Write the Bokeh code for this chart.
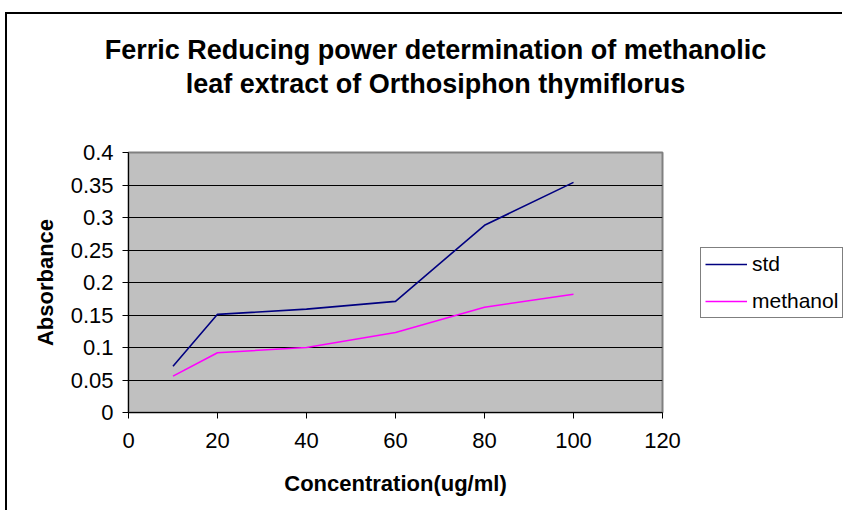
from bokeh.plotting import figure
from bokeh.models import Legend, LegendItem, Label, FixedTicker, Range1d
from bokeh.embed import file_html
from bokeh.resources import INLINE

# data
concentration = [10, 20, 40, 60, 80, 100]
std = [0.071, 0.151, 0.159, 0.171, 0.288, 0.354]
methanol = [0.056, 0.092, 0.100, 0.123, 0.162, 0.182]
x_ticks = [0, 20, 40, 60, 80, 100, 120]
y_ticks = [0, 0.05, 0.1, 0.15, 0.2, 0.25, 0.3, 0.35, 0.4]
title_lines = ["Ferric Reducing power determination of methanolic",
               "leaf extract of Orthosiphon thymiflorus"]

FONT = "Liberation Sans"
W = 837

# title strip (separate root, frame = whole canvas)
t = figure(width=W, height=126, output_backend="svg", toolbar_location=None,
           x_range=Range1d(0, 1), y_range=Range1d(0, 1),
           x_axis_type=None, y_axis_type=None, min_border=0, title=None)
t.grid.visible = False
t.outline_line_color = None
t.background_fill_color = "white"
t.border_fill_color = "white"
t.styles = {"margin-left": "5px", "margin-top": "12px",
            "border-left": "2px solid black", "border-top": "2px solid black"}
for i, line in enumerate(title_lines):
    t.add_layout(Label(x=428, y=91 - 34 * i, x_units="screen", y_units="screen",
                       text=line, text_align="center", text_baseline="alphabetic",
                       text_font=FONT, text_font_size="27px", text_font_style="bold",
                       text_color="black"))

# main chart
p = figure(frame_width=534, frame_height=260, output_backend="svg",
           toolbar_location=None,
           x_range=Range1d(0, 120), y_range=Range1d(0, 0.4),
           min_border_left=121, min_border_right=182, min_border_top=14,
           min_border_bottom=98, title=None)
p.styles = {"margin-left": "5px", "border-left": "2px solid black"}
p.background_fill_color = "#C0C0C0"
p.border_fill_color = "white"
p.outline_line_color = "#808080"
p.outline_line_width = 2

p.xgrid.grid_line_color = None
p.ygrid.grid_line_color = "black"
p.ygrid.grid_line_width = 1

for ax in (p.xaxis[0], p.yaxis[0]):
    ax.axis_line_color = "black"
    ax.major_tick_line_color = "black"
    ax.minor_tick_line_color = None
    ax.major_tick_in = 0
    ax.major_tick_out = 6
    ax.major_label_text_font = FONT
    ax.major_label_text_font_size = "22px"
    ax.major_label_text_color = "black"
    ax.axis_label_text_font = FONT
    ax.axis_label_text_font_size = "22px"
    ax.axis_label_text_font_style = "bold"
    ax.axis_label_text_color = "black"

p.xaxis.ticker = FixedTicker(ticks=x_ticks)
p.yaxis.ticker = FixedTicker(ticks=y_ticks)
p.xaxis.major_label_overrides = {v: str(v) for v in x_ticks}
p.yaxis.major_label_overrides = {v: ("0" if v == 0 else ("%g" % v)) for v in y_ticks}
p.xaxis.axis_label = "Concentration(ug/ml)"
p.yaxis.axis_label = "Absorbance"
p.xaxis.major_label_standoff = 14
p.yaxis.major_label_standoff = 9
p.xaxis.axis_label_standoff = 20
p.yaxis.axis_label_standoff = 10

r1 = p.line(concentration, std, line_color="#000080", line_width=1.6)
r2 = p.line(concentration, methanol, line_color="#FF00FF", line_width=1.6)

legend = Legend(items=[LegendItem(label="std", renderers=[r1]),
                       LegendItem(label="methanol", renderers=[r2])],
                location=(38, 94), orientation="vertical")
legend.label_text_font = FONT
legend.label_text_font_size = "21px"
legend.label_text_color = "black"
legend.glyph_width = 42
legend.glyph_height = 20
legend.label_standoff = 5
legend.spacing = 13
legend.padding = 4
legend.margin = 0
legend.border_line_color = "black"
legend.border_line_width = 1
legend.background_fill_color = "white"
legend.background_fill_alpha = 1
p.add_layout(legend, "right")

open("out.html", "w").write(file_html([t, p], INLINE))
